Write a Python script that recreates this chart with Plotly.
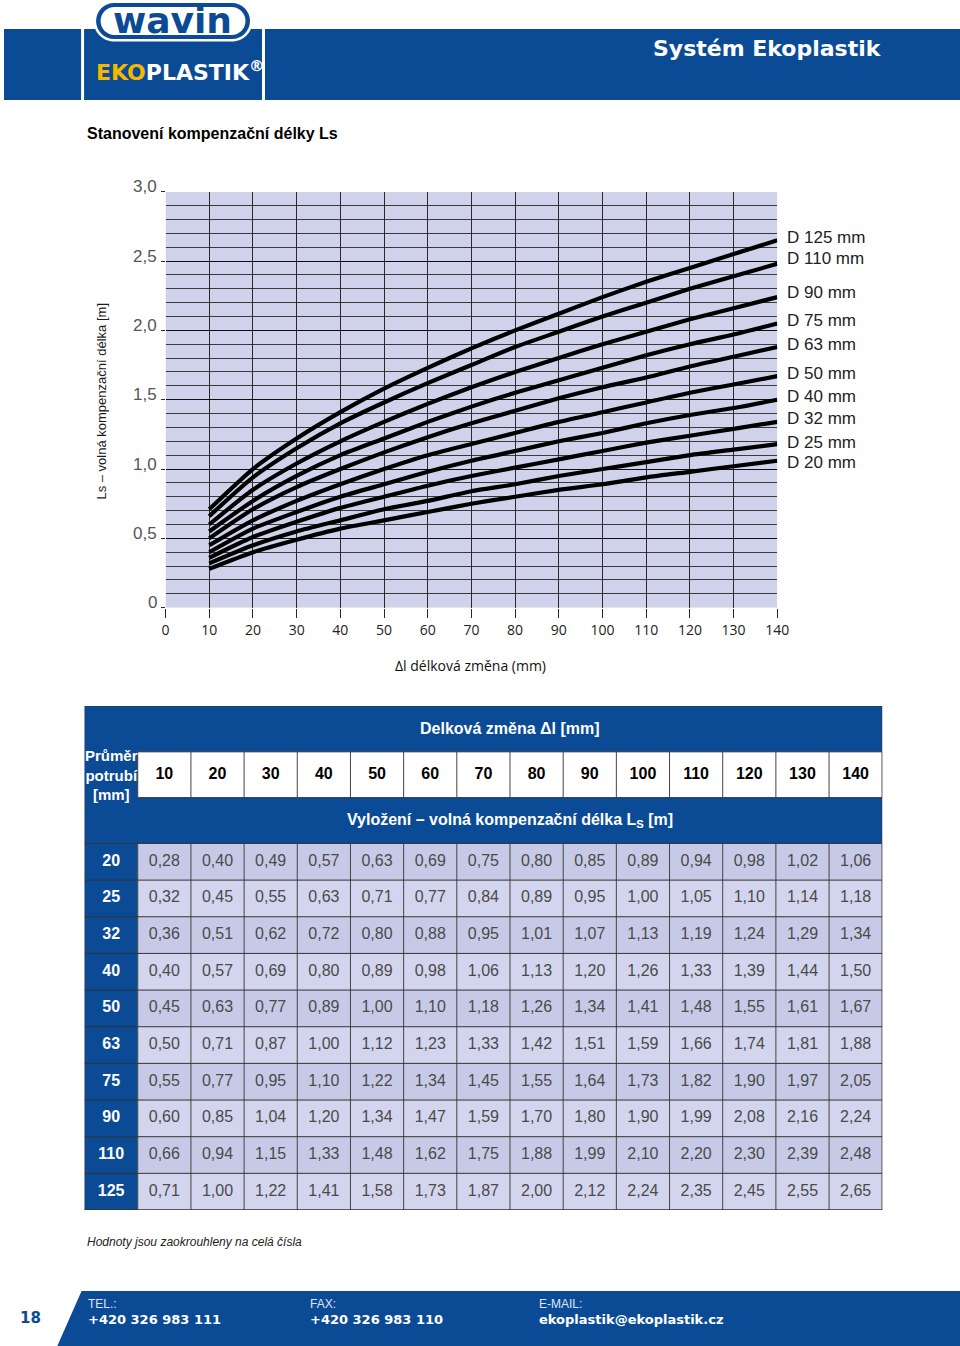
import plotly.graph_objects as go

# --- data -------------------------------------------------------------
delta_l = [10, 20, 30, 40, 50, 60, 70, 80, 90, 100, 110, 120, 130, 140]
diameters = [20, 25, 32, 40, 50, 63, 75, 90, 110, 125]

ls_values = [
    [0.28, 0.40, 0.49, 0.57, 0.63, 0.69, 0.75, 0.80, 0.85, 0.89, 0.94, 0.98, 1.02, 1.06],
    [0.32, 0.45, 0.55, 0.63, 0.71, 0.77, 0.84, 0.89, 0.95, 1.00, 1.05, 1.10, 1.14, 1.18],
    [0.36, 0.51, 0.62, 0.72, 0.80, 0.88, 0.95, 1.01, 1.07, 1.13, 1.19, 1.24, 1.29, 1.34],
    [0.40, 0.57, 0.69, 0.80, 0.89, 0.98, 1.06, 1.13, 1.20, 1.26, 1.33, 1.39, 1.44, 1.50],
    [0.45, 0.63, 0.77, 0.89, 1.00, 1.10, 1.18, 1.26, 1.34, 1.41, 1.48, 1.55, 1.61, 1.67],
    [0.50, 0.71, 0.87, 1.00, 1.12, 1.23, 1.33, 1.42, 1.51, 1.59, 1.66, 1.74, 1.81, 1.88],
    [0.55, 0.77, 0.95, 1.10, 1.22, 1.34, 1.45, 1.55, 1.64, 1.73, 1.82, 1.90, 1.97, 2.05],
    [0.60, 0.85, 1.04, 1.20, 1.34, 1.47, 1.59, 1.70, 1.80, 1.90, 1.99, 2.08, 2.16, 2.24],
    [0.66, 0.94, 1.15, 1.33, 1.48, 1.62, 1.75, 1.88, 1.99, 2.10, 2.20, 2.30, 2.39, 2.48],
    [0.71, 1.00, 1.22, 1.41, 1.58, 1.73, 1.87, 2.00, 2.12, 2.24, 2.35, 2.45, 2.55, 2.65],
]

x_ticks = [0, 10, 20, 30, 40, 50, 60, 70, 80, 90, 100, 110, 120, 130, 140]
y_ticks = [0, 0.5, 1.0, 1.5, 2.0, 2.5, 3.0]
y_ticktext = ["0", "0,5", "1,0", "1,5", "2,0", "2,5", "3,0"]

BLUE = "#0b4b96"
YELLOW = "#f5b700"
LAVENDER = "#cfd2ea"
GRID = "#2a2a2a"

# page coordinates are reference pixels. The page is photographed slightly
# squeezed sideways, so x positions are corrected with SX / OX.
W, H = 960, 1346
FIG_W, FIG_H = 976, 1368
SX, OX = 0.984, 4.4


def dx(r):
    return (r - OX) / SX / FIG_W


def dy(r):
    return 1 - r / FIG_H


# small vertical nudges of the curve labels (pixels)
label_nudge = {20: -2, 25: 2, 90: 5, 110: 5}

fig = go.Figure()

# --- chart curves -----------------------------------------------------
for d, vals in zip(diameters, ls_values):
    fig.add_trace(go.Scatter(x=delta_l, y=vals, mode="lines", name="D %d mm" % d,
                             line=dict(color="black", width=4.2, shape="spline", smoothing=0.6),
                             xaxis="x", yaxis="y", hoverinfo="skip"))

annotations = []
# legend labels at the curve ends
for d, vals in zip(diameters, ls_values):
    annotations.append(dict(x=delta_l[-1], y=vals[-1], xref="x", yref="y", text="D %d mm" % d,
                            showarrow=False, xanchor="left", yanchor="middle", xshift=8,
                            yshift=label_nudge.get(d, 3),
                            font=dict(family="Liberation Sans", size=17, color="#222")))
# y tick labels, sitting slightly above their grid lines
for v, t in zip(y_ticks, y_ticktext):
    annotations.append(dict(x=0, y=v, xref="x", yref="y", text=t, showarrow=False,
                            xanchor="right", yanchor="middle", xshift=-7, yshift=5,
                            font=dict(family="Liberation Sans", size=17, color="#555")))

# --- table text -------------------------------------------------------
cell_x, cell_y, cell_t = [], [], []
for r, vals in enumerate(ls_values):
    for c, v in enumerate(vals):
        cell_x.append(c + 1)
        cell_y.append(r + 0.5)
        cell_t.append(("%.2f" % v).replace(".", ","))
fig.add_trace(go.Scatter(x=cell_x, y=cell_y, text=cell_t, mode="text", xaxis="x3", yaxis="y3",
                         textfont=dict(family="Liberation Sans", size=16, color="#4a4a4a"),
                         hoverinfo="skip", cliponaxis=False))
fig.add_trace(go.Scatter(x=[0] * len(diameters), y=[r + 0.5 for r in range(len(diameters))],
                         text=[str(d) for d in diameters], mode="text", xaxis="x3", yaxis="y3",
                         textfont=dict(family="Liberation Sans", size=16, color="white", weight="bold"),
                         hoverinfo="skip", cliponaxis=False))
fig.add_trace(go.Scatter(x=[c + 1 for c in range(len(delta_l))], y=[-1.875] * len(delta_l),
                         text=[str(v) for v in delta_l], mode="text", xaxis="x3", yaxis="y3",
                         textfont=dict(family="Liberation Sans", size=16, color="black", weight="bold"),
                         hoverinfo="skip", cliponaxis=False))

shapes = []

# chart background
shapes.append(dict(type="rect", xref="x", yref="y", x0=0, x1=140, y0=0, y1=3,
                   fillcolor=LAVENDER, line_width=0, layer="below"))

# table backgrounds and lines (table axes: column index / row index)
ncol = len(delta_l)
nrow = len(diameters)
shapes.append(dict(type="rect", xref="x3", yref="y3", x0=-0.5, x1=ncol + 0.5, y0=-3.75, y1=0,
                   fillcolor=BLUE, line_width=0, layer="below"))
shapes.append(dict(type="rect", xref="x3", yref="y3", x0=-0.5, x1=0.5, y0=0, y1=nrow,
                   fillcolor=BLUE, line_width=0, layer="below"))
shapes.append(dict(type="rect", xref="x3", yref="y3", x0=0.5, x1=ncol + 0.5, y0=-2.5, y1=-1.25,
                   fillcolor="white", line_width=0, layer="below"))
for r in range(nrow):
    shapes.append(dict(type="rect", xref="x3", yref="y3", x0=0.5, x1=ncol + 0.5, y0=r, y1=r + 1,
                       fillcolor="#c6cae6" if r % 2 == 0 else "#d2d5ed", line_width=0, layer="below"))
for c in range(ncol + 1):
    shapes.append(dict(type="line", xref="x3", yref="y3", x0=c + 0.5, x1=c + 0.5, y0=-2.5, y1=-1.25,
                       line=dict(color="#444", width=1)))
    shapes.append(dict(type="line", xref="x3", yref="y3", x0=c + 0.5, x1=c + 0.5, y0=0, y1=nrow,
                       line=dict(color="#444", width=1)))
for r in range(nrow + 1):
    shapes.append(dict(type="line", xref="x3", yref="y3", x0=-0.5, x1=ncol + 0.5, y0=r, y1=r,
                       line=dict(color="#333", width=1)))
for yy in (-2.5, -1.25):
    shapes.append(dict(type="line", xref="x3", yref="y3", x0=0.5, x1=ncol + 0.5, y0=yy, y1=yy,
                       line=dict(color="#333", width=1)))
shapes.append(dict(type="rect", xref="x3", yref="y3", x0=-0.5, x1=ncol + 0.5, y0=-3.75, y1=nrow,
                   line=dict(color="#333", width=1)))

# header band + logo (page pixel axes)
shapes.append(dict(type="rect", xref="x2", yref="y2", x0=-10, x1=W + 20, y0=29, y1=100,
                   fillcolor=BLUE, line_width=0, layer="below"))
for gx in (81.5, 262.5):
    shapes.append(dict(type="rect", xref="x2", yref="y2", x0=gx, x1=gx + 3, y0=29, y1=100,
                       fillcolor="white", line_width=0, layer="below"))


def pill(x0, x1, y0, y1):
    r = (y1 - y0) / 2
    k = 0.55 * r
    return ("M %f,%f L %f,%f C %f,%f %f,%f %f,%f C %f,%f %f,%f %f,%f L %f,%f "
            "C %f,%f %f,%f %f,%f C %f,%f %f,%f %f,%f Z" % (
                x0 + r, y0, x1 - r, y0,
                x1 - r + k, y0, x1, y0 + r - k, x1, y0 + r,
                x1, y0 + r + k, x1 - r + k, y1, x1 - r, y1,
                x0 + r, y1,
                x0 + r - k, y1, x0, y1 - r + k, x0, y1 - r,
                x0, y0 + r - k, x0 + r - k, y0, x0 + r, y0))


shapes.append(dict(type="path", xref="x2", yref="y2", path=pill(94, 253, 0.5, 41.5),
                   fillcolor="white", line_width=0))
shapes.append(dict(type="path", xref="x2", yref="y2", path=pill(96.5, 250.5, 3, 39),
                   fillcolor=BLUE, line_width=0))
shapes.append(dict(type="path", xref="x2", yref="y2", path=pill(101, 246, 7, 35),
                   fillcolor="white", line_width=0))

# footer band with slanted left edge
shapes.append(dict(type="path", xref="x2", yref="y2",
                   path="M 82,1291 L 980,1291 L 980,1368 L 48,1368 Z",
                   fillcolor=BLUE, line_width=0, layer="below"))


def page_text(x, y, text, size, color="#111", family="Liberation Sans", weight="normal",
              xanchor="left", style="normal", **kw):
    annotations.append(dict(x=x, y=y, xref="x2", yref="y2", text=text, showarrow=False,
                            xanchor=xanchor, yanchor="middle",
                            font=dict(family=family, size=size, color=color, weight=weight, style=style),
                            **kw))


page_text(173, 20, "wavin", 36, color=BLUE, family="DejaVu Sans", weight="bold", xanchor="center")
page_text(94, 71, "<span style='color:%s'>EKO</span>PLASTIK<sup>®</sup>" % YELLOW, 22,
          color="white", family="DejaVu Sans", weight="bold")
page_text(885, 48, "Systém Ekoplastik", 22, color="white", family="DejaVu Sans", weight="bold",
          xanchor="right")
page_text(85, 133, "Stanovení kompenzační délky Ls", 16, color="black", weight="bold")

# chart titles
page_text(101, 401, "Ls – volná kompenzační délka [m]", 13, color="#1a1a1a", xanchor="center",
          textangle=-90)
page_text(471, 665, "Δl délková změna (mm)", 14, color="#111", family="Open Sans", xanchor="center")

# table header texts
annotations.append(dict(x=7.5, y=-3.125, xref="x3", yref="y3", text="Delková změna Δl [mm]",
                        showarrow=False, font=dict(family="Liberation Sans", size=16, color="white",
                                                   weight="bold")))
annotations.append(dict(x=7.5, y=-0.625, xref="x3", yref="y3",
                        text="Vyložení – volná kompenzační délka L<sub>S</sub> [m]",
                        showarrow=False, font=dict(family="Liberation Sans", size=16, color="white",
                                                   weight="bold")))
annotations.append(dict(x=0, y=-1.875, xref="x3", yref="y3", text="Průměr<br>potrubí<br>[mm]",
                        showarrow=False, font=dict(family="Liberation Sans", size=15, color="white",
                                                   weight="bold")))

page_text(85, 1242, "Hodnoty jsou zaokrouhleny na celá čísla", 12, color="#222", style="italic")

# footer
page_text(31, 1318, "18", 15, color=BLUE, family="DejaVu Sans", weight="bold", xanchor="center")
for fx, label, value in [(86, "TEL.:", "+420 326 983 111"), (309, "FAX:", "+420 326 983 110"),
                         (538, "E-MAIL:", "ekoplastik@ekoplastik.cz")]:
    page_text(fx, 1304, label, 12, color="#dfe6f2")
    page_text(fx, 1319, value, 13, color="white", family="DejaVu Sans", weight="bold")

fig.update_layout(
    width=FIG_W, height=FIG_H, margin=dict(l=0, r=0, t=0, b=0),
    paper_bgcolor="white", plot_bgcolor="rgba(0,0,0,0)", showlegend=False,
    xaxis=dict(domain=[dx(166), dx(778)], range=[0, 140], anchor="y",
               tickvals=x_ticks, ticktext=[str(v) for v in x_ticks],
               showgrid=True, gridcolor=GRID, gridwidth=1, zeroline=False, showline=False,
               ticks="outside", ticklen=9, tickcolor=GRID,
               tickfont=dict(family="Open Sans", size=14, color="#222")),
    yaxis=dict(domain=[dy(607.7), dy(191.7)], range=[0, 3], anchor="x",
               tickvals=y_ticks, showticklabels=False,
               showgrid=True, gridcolor="#111", gridwidth=1, zeroline=False, showline=False,
               ticks="outside", ticklen=4, tickcolor=GRID,
               minor=dict(dtick=0.1, showgrid=True, gridcolor="#3a3a3a", gridwidth=1)),
    xaxis2=dict(domain=[0, 1], range=[OX, OX + SX * FIG_W], anchor="y2", visible=False),
    yaxis2=dict(domain=[0, 1], range=[FIG_H, 0], anchor="x2", visible=False),
    xaxis3=dict(domain=[dx(85), dx(883)], range=[-0.5, 14.5], anchor="y3", visible=False),
    yaxis3=dict(domain=[dy(1210), dy(706)], range=[10, -3.75], anchor="x3", visible=False),
    shapes=shapes,
    annotations=annotations,
)

fig.write_html("out.html", config={"displayModeBar": False},
               post_script="document.body.style.margin='0';")
